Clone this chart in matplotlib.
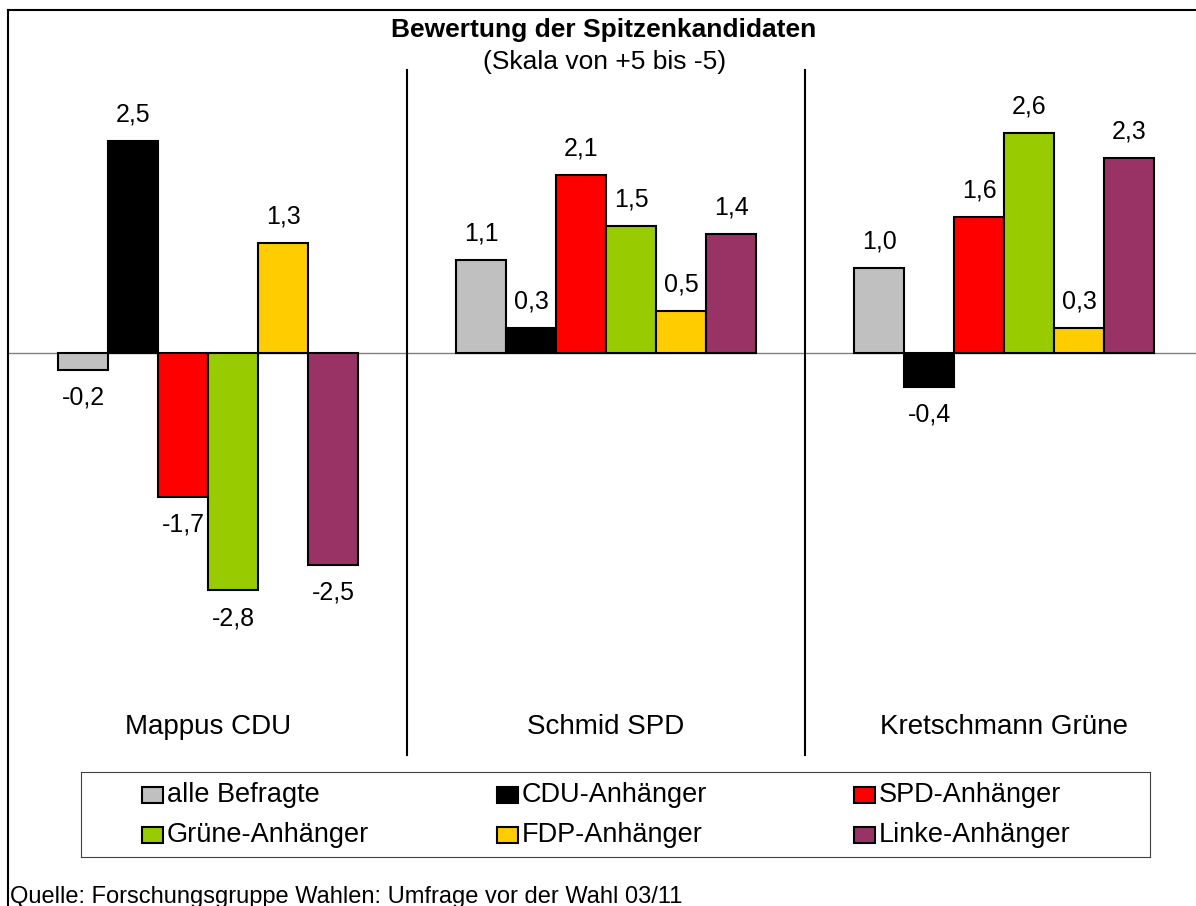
import numpy as np
import matplotlib.pyplot as plt
from matplotlib.patches import Rectangle

plt.rcParams['font.family'] = ['Liberation Sans', 'DejaVu Sans']

kandidaten = ['Mappus CDU', 'Schmid SPD', 'Kretschmann Grüne']
gruppen = ['alle Befragte', 'CDU-Anhänger', 'SPD-Anhänger',
           'Grüne-Anhänger', 'FDP-Anhänger', 'Linke-Anhänger']
farben = ['#C0C0C0', '#000000', '#FF0000', '#99CC00', '#FFCC00', '#993366']

mappus = [-0.2, 2.5, -1.7, -2.8, 1.3, -2.5]
schmid = [1.1, 0.3, 2.1, 1.5, 0.5, 1.4]
kretschmann = [1.0, -0.4, 1.6, 2.6, 0.3, 2.3]
werte = [mappus, schmid, kretschmann]

W, H = 1196, 906
fig = plt.figure(figsize=(W / 100, H / 100), dpi=100)

# plot area: left frame at 8px, top frame at 10px
ax = fig.add_axes([8 / W, 0, (W - 8) / W, (H - 10) / H])
ax.set_xlim((8 - 208) / 398, (W - 208) / 398)
ax.set_ylim(-(H - 353) / 84.8, (353 - 10) / 84.8)

w = 50 / 398
x = np.arange(len(kandidaten))
for i, name in enumerate(gruppen):
    vals = [werte[k][i] for k in range(len(kandidaten))]
    pos = x + (i - 2.5) * w
    bars = ax.bar(pos, vals, width=w, color=farben[i], edgecolor='black',
                  linewidth=1.5, zorder=3)
    for xp, v in zip(pos, vals):
        off = 19 if v >= 0 else -20
        ax.annotate(f'{v:.1f}'.replace('.', ','), (xp, v), xytext=(0, off),
                    textcoords='offset points', ha='center', va='center',
                    fontsize=18)

ax.axhline(0, color='#808080', linewidth=1, zorder=2)
for b in [0.5, 1.5]:
    ax.plot([b, b], [(353 - 70) / 84.8, (353 - 755) / 84.8], color='black',
            linewidth=1.5)
for k, name in enumerate(kandidaten):
    ax.text(k, (353 - 727) / 84.8, name, ha='center', va='center', fontsize=20)

ax.set_xticks([])
ax.set_yticks([])
for s in ['right', 'bottom']:
    ax.spines[s].set_visible(False)
for s in ['left', 'top']:
    ax.spines[s].set_linewidth(1.5)

fig.text(604 / W, 1 - 30 / H, 'Bewertung der Spitzenkandidaten',
         ha='center', va='center', fontsize=19, fontweight='bold')
fig.text(605 / W, 1 - 62 / H, '(Skala von +5 bis -5)',
         ha='center', va='center', fontsize=19)

# legend box
lax = fig.add_axes([81 / W, 1 - 857 / H, (1150 - 81) / W, (857 - 772) / H])
lax.set_xlim(0, 1150 - 81)
lax.set_ylim(857 - 772, 0)
lax.set_xticks([])
lax.set_yticks([])
for s in lax.spines.values():
    s.set_color('#404040')
    s.set_linewidth(0.8)
spalten = [61, 416, 773]
zeilen = [23, 63]
for i, name in enumerate(gruppen):
    cx = spalten[i % 3]
    cy = zeilen[i // 3]
    lax.add_patch(Rectangle((cx, cy - 8), 21, 16, facecolor=farben[i],
                            edgecolor='black', linewidth=1.5))
    lax.text(cx + 25, cy, name, va='center', ha='left', fontsize=19.5)

fig.text(10 / W, 1 - 903 / H,
         'Quelle: Forschungsgruppe Wahlen: Umfrage vor der Wahl 03/11',
         ha='left', va='baseline', fontsize=17)

fig.savefig('out.png', dpi=100)
